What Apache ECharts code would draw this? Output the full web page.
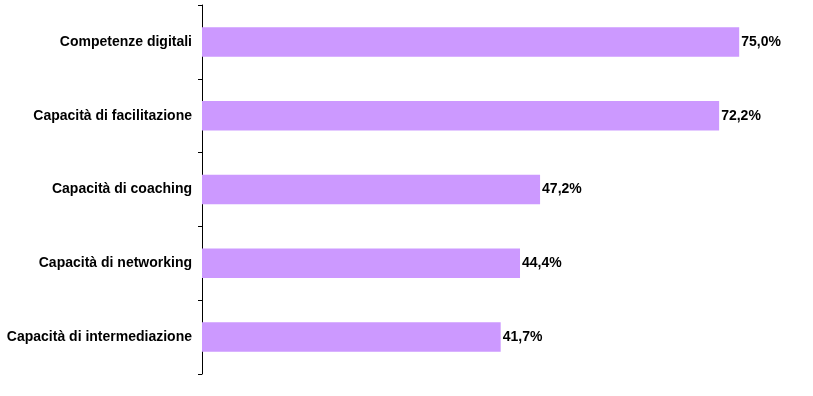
<!DOCTYPE html>
<html><head><meta charset="utf-8">
<script src="https://cdn.jsdelivr.net/npm/echarts@6/dist/echarts.min.js"></script>
<style>html,body{margin:0;padding:0;background:#fff}#c{width:813px;height:396px}</style>
</head><body><div id="c"></div>
<script>
const categories = ["Competenze digitali","Capacità di facilitazione","Capacità di coaching","Capacità di networking","Capacità di intermediazione"];
const values = [75.0, 72.2, 47.2, 44.4, 41.7];

const chart = echarts.init(document.getElementById('c'), null, {renderer:'canvas'});
chart.setOption({
  animation:false,
  backgroundColor:'#ffffff',
  grid:{left:202, top:5, width:573, height:369, containLabel:false},
  xAxis:{type:'value', min:0, max:80, show:false},
  yAxis:{type:'category', data:categories, inverse:true,
    axisLine:{show:true, lineStyle:{color:'#000', width:1}},
    axisTick:{show:true, length:4, lineStyle:{color:'#000'}},
    axisLabel:{color:'#000', fontFamily:'Liberation Sans, Arial', fontWeight:'bold', fontSize:14, margin:10},
    splitLine:{show:false}
  },
  series:[{type:'bar', data:values, barCategoryGap:'60%',
    itemStyle:{color:'#CC99FF'},
    label:{show:true, position:'right', distance:2, color:'#000', fontFamily:'Liberation Sans, Arial', fontWeight:'bold', fontSize:14,
      formatter:p=>p.value.toFixed(1).replace('.',',')+'%'}
  }]
});
</script></body></html>
